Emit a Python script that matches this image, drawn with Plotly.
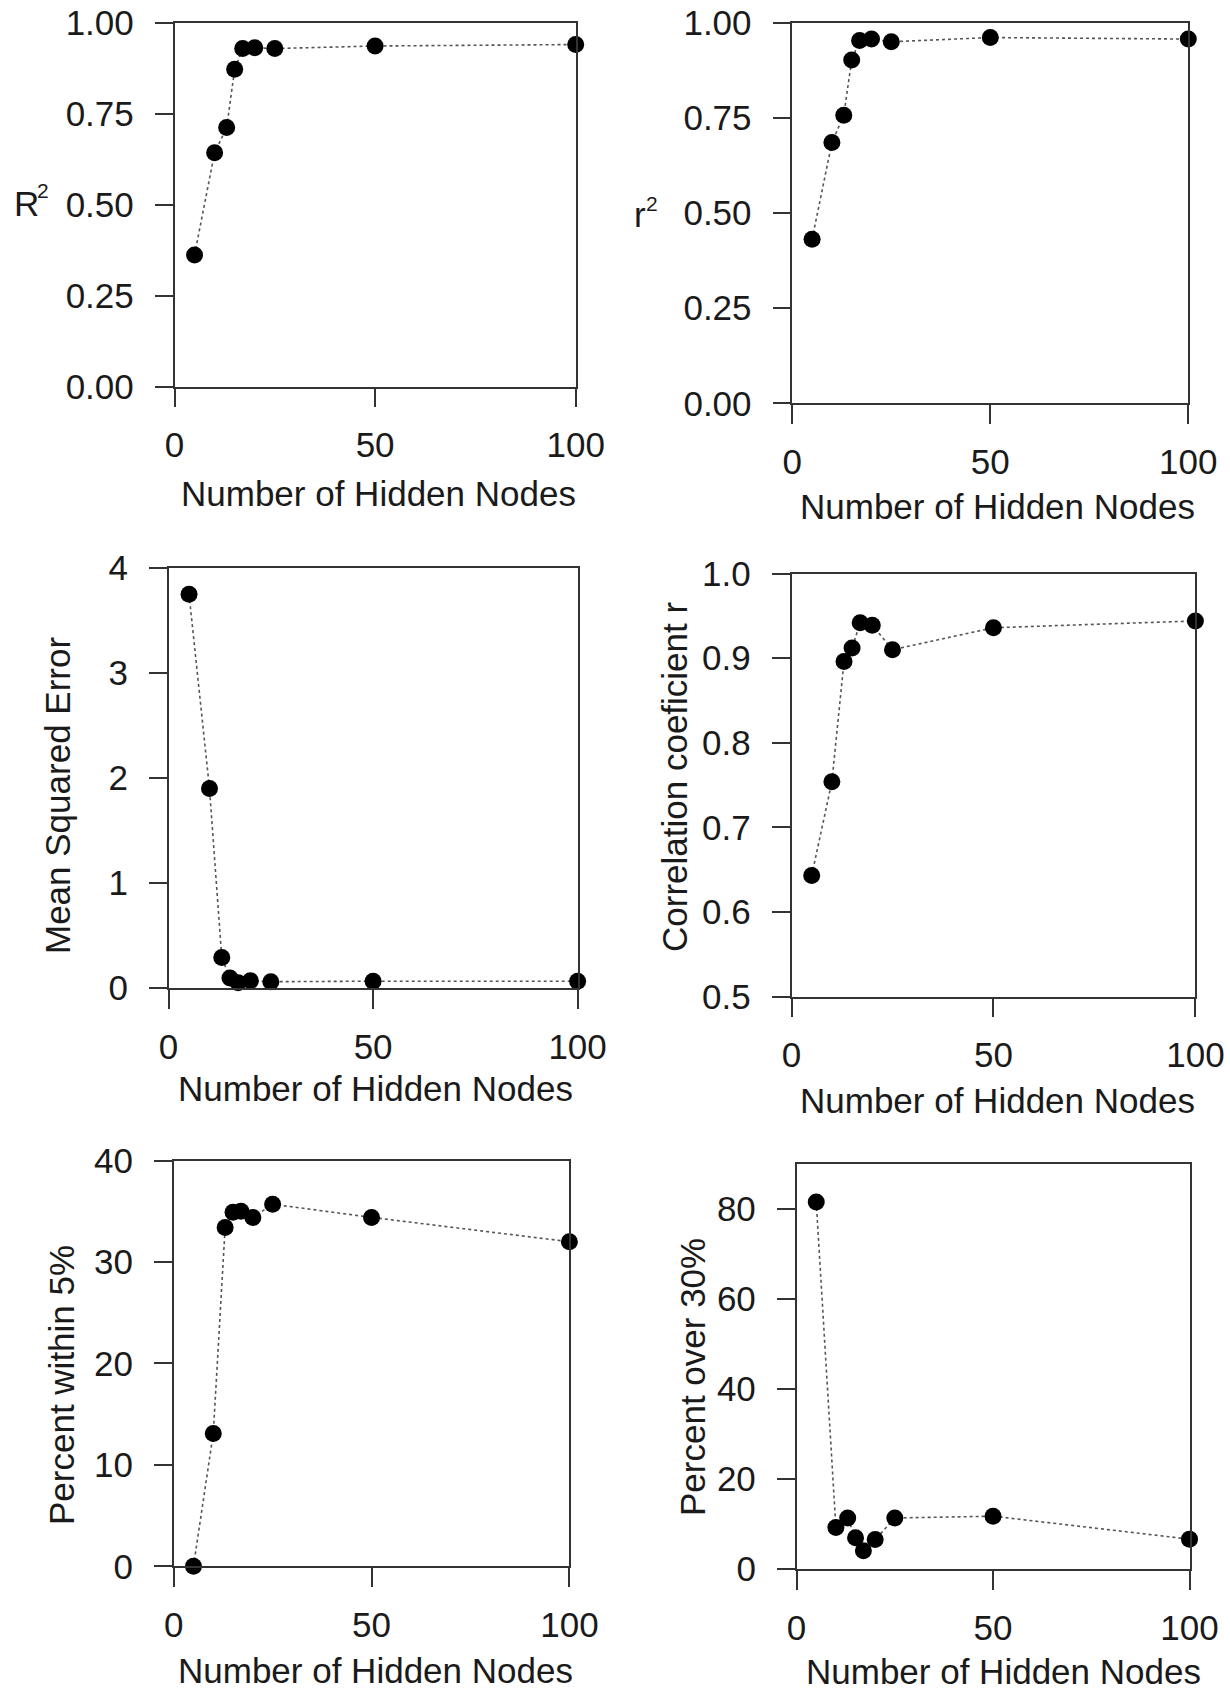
import plotly.graph_objects as go

# ---- data ----
hidden_nodes = [5, 10, 13, 15, 17, 20, 25, 50, 100]
r_squared_big = [0.362, 0.643, 0.712, 0.872, 0.929, 0.931, 0.929, 0.936, 0.940]
r_squared_small = [0.431, 0.685, 0.757, 0.902, 0.953, 0.957, 0.950, 0.961, 0.957]
mse = [3.75, 1.90, 0.29, 0.095, 0.05, 0.07, 0.06, 0.065, 0.064]
corr_r = [0.643, 0.754, 0.896, 0.912, 0.942, 0.939, 0.910, 0.936, 0.944]
pct_within5 = [0.0, 13.1, 33.4, 34.9, 35.0, 34.4, 35.7, 34.4, 32.0]
pct_over30 = [81.6, 9.2, 11.3, 6.9, 4.0, 6.5, 11.3, 11.7, 6.6]

x_ticks = [0, 50, 100]
x_title = "Number of Hidden Nodes"

W, H = 1230, 1694
FONT = "Liberation Sans, Arial, Helvetica, sans-serif"
FS = 35
LINEC = "#333333"

panels = [
    dict(y=r_squared_big, yr=[0, 1], yt=[0, 0.25, 0.5, 0.75, 1.0], fmt=".2f",
         xpx=(174.5, 575.7), ypx=(22.7, 386.7)),
    dict(y=r_squared_small, yr=[0, 1], yt=[0, 0.25, 0.5, 0.75, 1.0], fmt=".2f",
         xpx=(792.3, 1188.3), ypx=(22.7, 403.3)),
    dict(y=mse, yr=[0, 4], yt=[0, 1, 2, 3, 4], fmt="d",
         xpx=(168.6, 577.6), ypx=(568.1, 988.0)),
    dict(y=corr_r, yr=[0.5, 1.0], yt=[0.5, 0.6, 0.7, 0.8, 0.9, 1.0], fmt=".1f",
         xpx=(791.5, 1195.4), ypx=(573.6, 996.5)),
    dict(y=pct_within5, yr=[0, 40], yt=[0, 10, 20, 30, 40], fmt="d",
         xpx=(173.7, 569.4), ypx=(1160.6, 1566.3)),
    dict(y=pct_over30, yr=[0, 90], yt=[0, 20, 40, 60, 80], fmt="d",
         xpx=(796.6, 1189.5), ypx=(1164.2, 1568.8)),
]

fig = go.Figure()
layout = dict(
    template="none",
    width=W, height=H, margin=dict(l=0, r=0, t=0, b=0, pad=0, autoexpand=False),
    paper_bgcolor="white", plot_bgcolor="white", showlegend=False,
    font=dict(family=FONT, size=FS, color="#1a1a1a"),
)

for i, p in enumerate(panels, start=1):
    xa = "x" if i == 1 else f"x{i}"
    ya = "y" if i == 1 else f"y{i}"
    fig.add_trace(go.Scatter(
        x=hidden_nodes, y=p["y"], xaxis=xa, yaxis=ya,
        mode="lines+markers", cliponaxis=False,
        line=dict(color="#555555", width=1.6, dash="dot"),
        marker=dict(color="black", size=17, line=dict(width=0)),
    ))
    x0, x1 = p["xpx"]
    y0, y1 = p["ypx"]
    layout["xaxis" if i == 1 else f"xaxis{i}"] = dict(
        domain=[x0 / W, x1 / W], anchor=ya, range=[0, 100], automargin=False,
        tickvals=x_ticks, ticks="outside", ticklen=19, tickwidth=1.5,
        tickcolor=LINEC, showline=True, linecolor=LINEC, linewidth=1.5,
        mirror=True, showgrid=False, zeroline=False,
        tickfont=dict(size=FS), ticklabelstandoff=8,
    )
    layout["yaxis" if i == 1 else f"yaxis{i}"] = dict(
        domain=[1 - y1 / H, 1 - y0 / H], anchor=xa, range=p["yr"], automargin=False,
        tickvals=p["yt"], tickformat=p["fmt"], ticks="outside", ticklen=18,
        tickwidth=1.5, tickcolor=LINEC, showline=True, linecolor=LINEC,
        linewidth=1.5, mirror=True, showgrid=False, zeroline=False,
        tickfont=dict(size=FS), ticklabelstandoff=14,
    )

ann = []
# x titles (center x px, center y px)
xt_pos = [(378, 493), (997, 506), (376, 1088), (997, 1100), (376, 1670), (1003, 1671)]
for cx, cy in xt_pos:
    ann.append(dict(text=x_title, x=cx / W, y=1 - cy / H, xref="paper", yref="paper",
                    xanchor="center", yanchor="middle", showarrow=False,
                    font=dict(size=FS)))
# horizontal y titles with superscript
ann.append(dict(text="R", x=12 / W, y=1 - 204 / H, xref="paper", yref="paper",
                xanchor="left", yanchor="middle", showarrow=False, font=dict(size=FS)))
ann.append(dict(text="2", x=35 / W, y=1 - 190 / H, xref="paper", yref="paper",
                xanchor="left", yanchor="middle", showarrow=False, font=dict(size=21)))
ann.append(dict(text="r", x=632 / W, y=1 - 214 / H, xref="paper", yref="paper",
                xanchor="left", yanchor="middle", showarrow=False, font=dict(size=FS)))
ann.append(dict(text="2", x=644 / W, y=1 - 204 / H, xref="paper", yref="paper",
                xanchor="left", yanchor="middle", showarrow=False, font=dict(size=21)))
# rotated y titles
for txt, cx, cy in [("Mean Squared Error", 57, 796),
                    ("Correlation coeficient r", 674, 777),
                    ("Percent within 5%", 61, 1385),
                    ("Percent over 30%", 692, 1377)]:
    ann.append(dict(text=txt, x=cx / W, y=1 - cy / H, xref="paper", yref="paper",
                    xanchor="center", yanchor="middle", textangle=-90, showarrow=False,
                    font=dict(size=FS)))
layout["annotations"] = ann

fig.update_layout(**layout)
fig.write_html("out.html")
